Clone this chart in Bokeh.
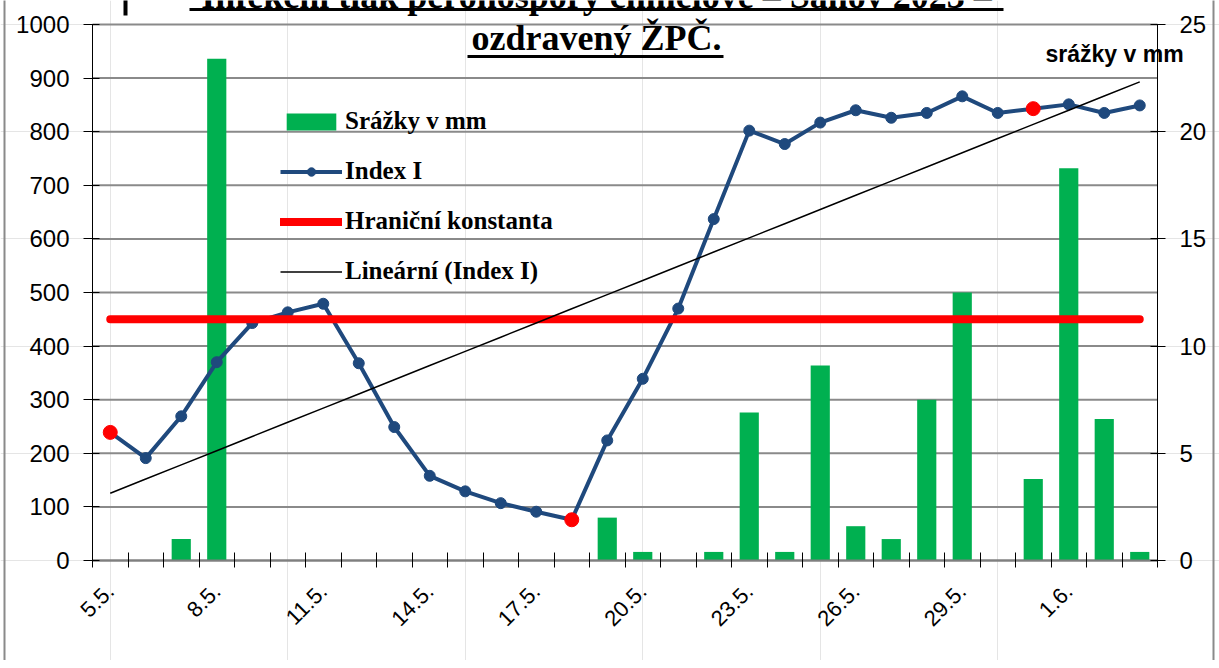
import math
import numpy as np
from bokeh.plotting import figure
from bokeh.models import (Range1d, LinearAxis, FixedTicker, SingleIntervalTicker,
                          Label, Arrow, Legend, LegendItem, ColumnDataSource)
from bokeh.embed import file_html
from bokeh.resources import INLINE

# ---------------- data ----------------
dates = ["5.5.", "6.5.", "7.5.", "8.5.", "9.5.", "10.5.", "11.5.", "12.5.", "13.5.", "14.5.",
         "15.5.", "16.5.", "17.5.", "18.5.", "19.5.", "20.5.", "21.5.", "22.5.", "23.5.", "24.5.",
         "25.5.", "26.5.", "27.5.", "28.5.", "29.5.", "30.5.", "31.5.", "1.6.", "2.6.", "3.6."]
index_i = [239, 191, 269, 370, 443, 463, 479, 368, 249, 158,
           129, 107, 91, 76, 224, 339, 470, 637, 802, 777,
           817, 840, 826, 835, 866, 835, 843, 851, 835, 849]
srazky = [0, 0, 1.0, 23.4, 0, 0, 0, 0, 0, 0,
          0, 0, 0, 0, 2.0, 0.4, 0, 0.4, 6.9, 0.4,
          9.1, 1.6, 1.0, 7.5, 12.5, 0, 3.8, 18.3, 6.6, 0.4]
hranicni_konstanta = 450
red_days = ["5.5.", "18.5.", "31.5."]
label_every = 3
left_max, left_step = 1000, 100
right_max, right_step = 25, 5

title_line1 = "Infekční tlak peronospory chmelové – Šanov 2023 –"
title_line2 = "ozdravený ŽPČ."
right_axis_title = "srážky v mm"

# ---------------- layout (pixels) ----------------
W, H = 1219, 660
FL, FR, FT, FB = 92, 1157, 24, 560      # plot area edges
ncat = len(dates)
ppx = (FR - FL) / ncat
ppy = (FB - FT) / left_max
x_start = -0.5 - FL / ppx
x_end = ncat - 0.5 + (W - FR) / ppx
y_start = -(H - FB) / ppy
y_end = left_max + FT / ppy
rscale = left_max / right_max


def px2x(px):
    return (px - FL) / ppx - 0.5


def px2y(py):
    return (FB - py) / ppy


# ---------------- derived ----------------
xs = list(range(ncat))
coef = np.polyfit(xs, index_i, 1)
trend = list(np.polyval(coef, xs))
red_x = [dates.index(d) for d in red_days]
red_y = [index_i[i] for i in red_x]
grid_vals = list(range(0, left_max + 1, left_step))

src = ColumnDataSource(dict(x=xs, idx=index_i, rain=srazky, trend=trend,
                            thr=[hranicni_konstanta] * ncat))

GRID = "#8a8a8a"
SANS = "Liberation Sans"
SERIF = "Liberation Serif"

p = figure(width=W, height=H, output_backend="svg", toolbar_location=None,
           x_range=Range1d(x_start, x_end), y_range=Range1d(y_start, y_end),
           x_axis_location=None, y_axis_location=None,
           min_border_left=0, min_border_right=0, min_border_top=0, min_border_bottom=0,
           outline_line_color=None, background_fill_color="white", border_fill_color="white")
p.extra_y_ranges = {"rain": Range1d(y_start / rscale, y_end / rscale)}

# grid lines (drawn from the tick values)
p.segment(x0=[-0.5] * len(grid_vals), x1=[ncat - 0.5] * len(grid_vals),
          y0=grid_vals, y1=grid_vals, line_color=GRID, line_width=2)


def style_axis(ax):
    ax.major_label_text_font = SANS
    ax.major_label_text_font_size = "24px"
    ax.major_label_text_color = "black"
    ax.minor_tick_in = 0
    ax.minor_tick_out = 0
    ax.axis_line_color = "black"
    ax.major_tick_line_color = "black"


# left axis
yax = LinearAxis(fixed_location=-0.5, bounds=(0, left_max),
                 ticker=SingleIntervalTicker(interval=left_step, num_minor_ticks=0))
style_axis(yax)
yax.major_tick_in = 7
yax.major_tick_out = 9
yax.major_label_standoff = 14
p.add_layout(yax, "left")

# right axis
rax = LinearAxis(y_range_name="rain", fixed_location=ncat - 0.5, bounds=(0, right_max),
                 ticker=SingleIntervalTicker(interval=right_step, num_minor_ticks=0))
style_axis(rax)
rax.major_tick_in = 7
rax.major_tick_out = 8
rax.major_label_standoff = 14
p.add_layout(rax, "right")

# x axis
major = xs[::label_every]
xax = LinearAxis(fixed_location=0, bounds=(-0.5, ncat - 0.5),
                 ticker=FixedTicker(ticks=major, minor_ticks=[i - 0.5 for i in range(ncat + 1)]))
xax.major_label_overrides = {i: dates[i] for i in major}
xax.major_label_orientation = math.pi / 4
xax.major_label_text_font = SANS
xax.major_label_text_font_size = "22px"
xax.major_label_text_color = "black"
xax.major_tick_in = 0
xax.major_tick_out = 0
xax.minor_tick_in = 8
xax.minor_tick_out = 7
xax.minor_tick_line_color = "black"
xax.axis_line_color = "#7f7f7f"
xax.axis_line_width = 2
xax.major_label_standoff = 20
p.add_layout(xax, "below")

# ---------------- marks ----------------
bars = p.vbar(x="x", top="rain", width=0.54, source=src, y_range_name="rain",
              fill_color="#00B050", line_color=None)
idx_line = p.line(x="x", y="idx", source=src, line_color="#1F497D", line_width=4)
idx_pts = p.scatter(x="x", y="idx", source=src, size=11, fill_color="#1F497D", line_color="#1F497D")
p.scatter(x=red_x, y=red_y, size=14, fill_color="#FF0000", line_color="#FF0000")
thr_line = p.line(x="x", y="thr", source=src, line_color="#FF0000", line_width=8, line_cap="round")
trend_line = p.line(x="x", y="trend", source=src, line_color="black", line_width=1.5)

legend = Legend(items=[
    LegendItem(label="Srážky v mm", renderers=[bars]),
    LegendItem(label="Index I", renderers=[idx_line, idx_pts]),
    LegendItem(label="Hraniční konstanta", renderers=[thr_line]),
    LegendItem(label="Lineární (Index I)", renderers=[trend_line]),
], location=(280, H - 286), glyph_width=62, glyph_height=21, label_height=30, spacing=20,
    padding=0, margin=0, border_line_color=None, background_fill_alpha=0,
    label_text_font=SERIF, label_text_font_style="bold", label_text_font_size="25px",
    label_standoff=3, label_text_color="black")
p.add_layout(legend)

# ---------------- texts ----------------
title_x = px2x(596)
p.add_layout(Label(x=title_x, y=px2y(-5), text=title_line1, text_font=SERIF, text_font_size="36px",
                   text_font_style="bold", text_align="center", text_baseline="alphabetic",
                   text_color="black"))
p.add_layout(Label(x=title_x, y=px2y(37), text=title_line2, text_font=SERIF, text_font_size="36px",
                   text_font_style="bold", text_align="center", text_baseline="alphabetic",
                   text_color="black"))
p.add_layout(Arrow(end=None, x_start=px2x(189), y_start=px2y(9), x_end=px2x(1003), y_end=px2y(9),
                   line_color="black", line_width=3))
p.add_layout(Arrow(end=None, x_start=px2x(467), y_start=px2y(56), x_end=px2x(723), y_end=px2y(56),
                   line_color="black", line_width=3))
p.add_layout(Arrow(end=None, x_start=px2x(125), y_start=px2y(-2), x_end=px2x(125), y_end=px2y(15),
                   line_color="black", line_width=4))
p.add_layout(Label(x=px2x(1045), y=px2y(53), text=right_axis_title, text_font=SANS,
                   text_font_size="23px", text_font_style="bold", text_align="left",
                   text_baseline="alphabetic", text_color="black"))
# chart border
for bx in (4, 1213):
    p.add_layout(Arrow(end=None, x_start=px2x(bx), y_start=px2y(-5), x_end=px2x(bx), y_end=px2y(H + 5),
                       line_color="#8a8a8a", line_width=2))

open("out.html", "w").write(file_html(p, INLINE))
